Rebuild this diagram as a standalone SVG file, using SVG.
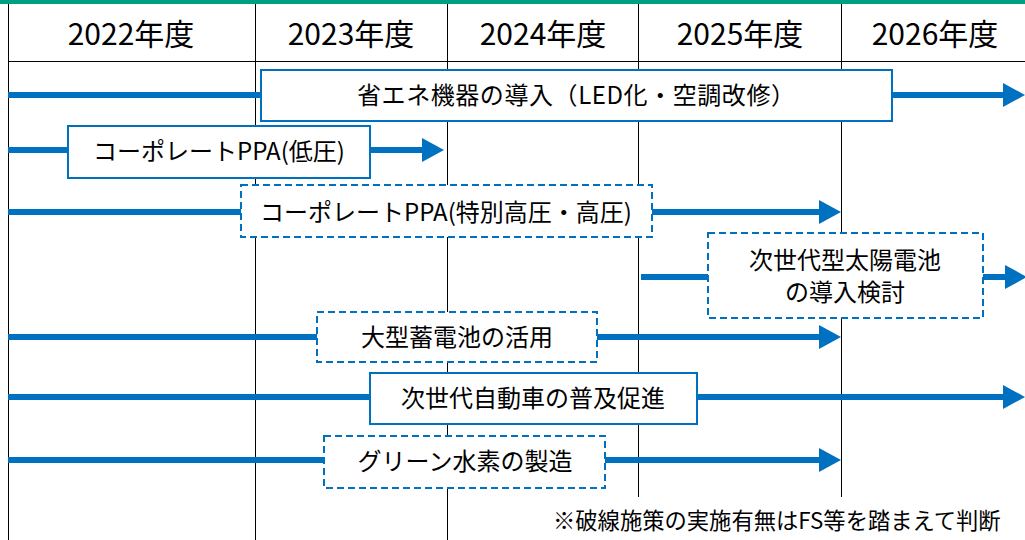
<svg xmlns="http://www.w3.org/2000/svg" width="1025" height="540" viewBox="0 0 1025 540">
<style>
.grid{stroke:#000;stroke-width:1;fill:none}
.hdr{font-family:"Noto Sans CJK JP","Noto Sans",sans-serif;font-size:30px;fill:#000;text-anchor:middle}
.lbl{font-family:"Noto Sans CJK JP","Noto Sans",sans-serif;font-size:24px;fill:#000;text-anchor:middle}
.note{font-family:"Noto Sans CJK JP","Noto Sans",sans-serif;font-size:22.3px;fill:#000}
.box{fill:#fff;stroke:#0070C0;stroke-width:2}
.dash{fill:#fff;stroke:#0070C0;stroke-width:2;stroke-dasharray:7,4}
.bar{stroke:#0070C0;stroke-width:6;fill:none}
.arr{stroke:#0070C0;stroke-width:6;fill:none;marker-end:url(#ah)}
</style>
<defs>
<marker id="ah" markerUnits="userSpaceOnUse" markerWidth="22" markerHeight="24" refX="0" refY="12" orient="auto" viewBox="0 0 22 24">
<path d="M0,0 L22,12 L0,24 z" fill="#0070C0"/>
</marker>
</defs>
<rect x="0" y="0" width="1025" height="540" fill="#fff"/>
<rect x="0" y="0" width="1025" height="4" fill="#009E83"/>
<g id="grid">
<line class="grid" x1="8.5" y1="4" x2="8.5" y2="540"/>
<line class="grid" x1="255.5" y1="4" x2="255.5" y2="540"/>
<line class="grid" x1="447.5" y1="4" x2="447.5" y2="540"/>
<line class="grid" x1="638.5" y1="4" x2="638.5" y2="497"/>
<line class="grid" x1="841.5" y1="4" x2="841.5" y2="497"/>
<line class="grid" x1="8" y1="61.5" x2="1025" y2="61.5"/>
</g>
<g id="header">
<text class="hdr" x="131" y="45">2022年度</text>
<text class="hdr" x="351" y="45">2023年度</text>
<text class="hdr" x="543" y="45">2024年度</text>
<text class="hdr" x="740" y="45">2025年度</text>
<text class="hdr" x="935" y="45">2026年度</text>
</g>
<g id="connectors">
<line class="bar" x1="8" y1="95" x2="262" y2="95"/>
<line class="arr" x1="892" y1="95" x2="1003" y2="95"/>
<line class="bar" x1="8" y1="150" x2="69" y2="150"/>
<line class="arr" x1="370" y1="150" x2="422" y2="150"/>
<line class="bar" x1="8" y1="212" x2="241" y2="212"/>
<line class="arr" x1="652" y1="212" x2="819" y2="212"/>
<line class="bar" x1="641" y1="277" x2="709" y2="277"/>
<line class="arr" x1="983" y1="277" x2="1005" y2="277"/>
<line class="bar" x1="8" y1="337" x2="318" y2="337"/>
<line class="arr" x1="597" y1="337" x2="819" y2="337"/>
<line class="bar" x1="8" y1="397" x2="370" y2="397"/>
<line class="arr" x1="697" y1="397" x2="1003" y2="397"/>
<line class="bar" x1="8" y1="460" x2="325" y2="460"/>
<line class="arr" x1="605" y1="460" x2="819" y2="460"/>
</g>
<g id="n1">
<rect class="box" x="261" y="70" width="631" height="51"/>
<text class="lbl" x="576" y="104" textLength="438" lengthAdjust="spacing">省エネ機器の導入（LED化・空調改修）</text>
</g>
<g id="n2">
<rect class="box" x="68" y="126" width="302" height="52"/>
<text class="lbl" x="219" y="160">コーポレートPPA(低圧)</text>
</g>
<g id="n3">
<rect class="dash" x="241" y="185" width="411" height="52"/>
<text class="lbl" x="446" y="221">コーポレートPPA(特別高圧・高圧)</text>
</g>
<g id="n4">
<rect class="dash" x="708" y="233" width="275" height="85"/>
<text class="lbl" x="845" y="269">次世代型太陽電池</text>
<text class="lbl" x="845" y="301">の導入検討</text>
</g>
<g id="n5">
<rect class="dash" x="317" y="312" width="280" height="50"/>
<text class="lbl" x="457" y="346">大型蓄電池の活用</text>
</g>
<g id="n6">
<rect class="box" x="370" y="373" width="327" height="51"/>
<text class="lbl" x="533" y="407">次世代自動車の普及促進</text>
</g>
<g id="n7">
<rect class="dash" x="324" y="436" width="281" height="52"/>
<text class="lbl" x="465" y="470">グリーン水素の製造</text>
</g>
<g id="footnote">
<text class="note" x="553" y="529">※破線施策の実施有無はFS等を踏まえて判断</text>
</g>
</svg>
